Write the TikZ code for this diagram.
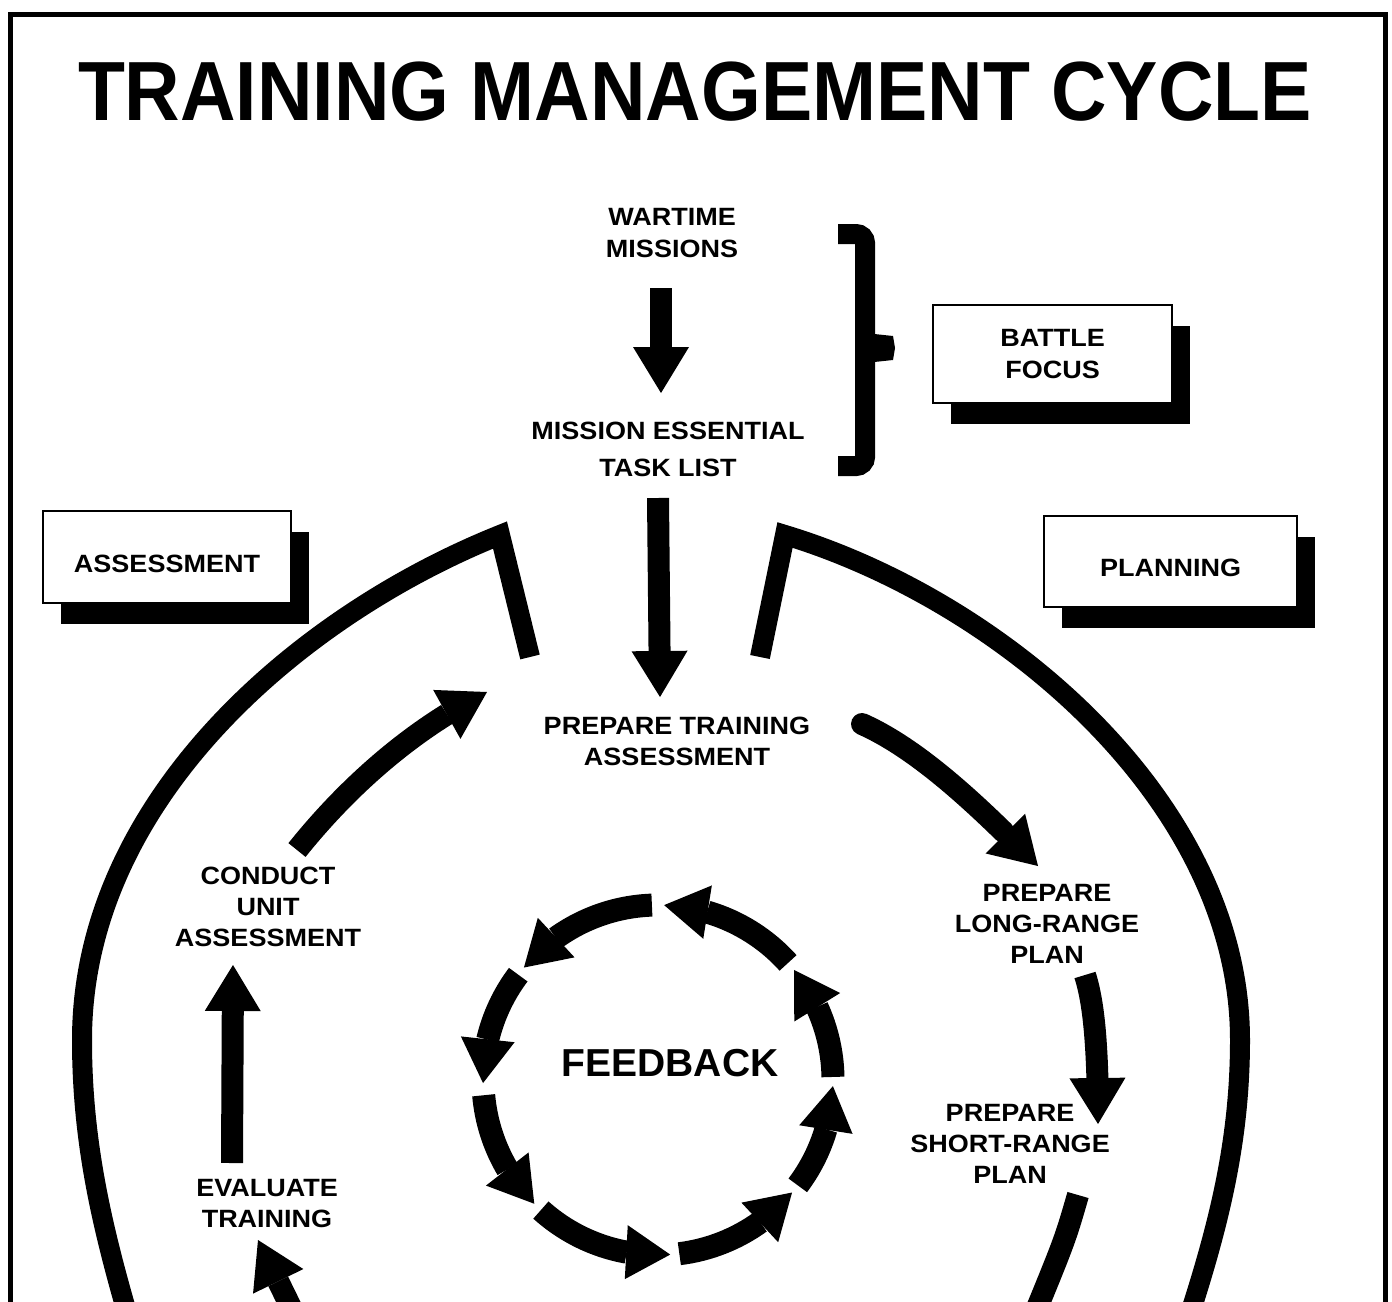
\documentclass[tikz,border=0pt]{standalone}
\usepackage{fontspec}
\setmainfont{Liberation Sans}
\newfontfamily\labfont{Liberation Sans}[FakeStretch=1.08]
\newfontfamily\ttlfont{Liberation Sans}[FakeStretch=0.915]
\usetikzlibrary{arrows.meta,bending,shadows}
\begin{document}
\begin{tikzpicture}[x=1pt,y=-1pt,
  lbl/.style={font=\labfont\bfseries\fontsize{25pt}{31pt}\selectfont, align=center, inner sep=0pt},
  tbox/.style={draw, line width=2.5pt, fill=white, inner sep=0pt, align=center,
     font=\labfont\bfseries\fontsize{25pt}{32pt}\selectfont,
     drop shadow={shadow xshift=18pt, shadow yshift=-21pt, opacity=1, fill=black}},
  bigarrow/.style={line width=22pt, -{Triangle[width=56pt,length=46pt,line width=0pt]}},
  fbarrow/.style={line width=23pt, -{Triangle[width=54pt,length=44pt,line width=0pt]}},
  outer/.style={line width=20pt, line join=miter},
  frame/.style={line width=5pt}
]
\useasboundingbox (0,0) rectangle (1392,1301);
\fill[white] (0,0) rectangle (1392,1301);
\clip (0,0) rectangle (1392,1301);

% frame
\draw[frame] (10,1320) -- (10,14) -- (1385,14) -- (1385,1320);

% title
\node[inner sep=0pt, font=\ttlfont\bfseries\fontsize{84pt}{84pt}\selectfont] (title) at (695,92) {TRAINING MANAGEMENT CYCLE};

% texts
\node[lbl] (wartime) at (672,233) {WARTIME\\[1pt]MISSIONS};
\node[lbl] (metl) at (668,449.5) {MISSION ESSENTIAL\\[6pt]TASK LIST};
\node[lbl] (pta) at (677,741.5) {PREPARE TRAINING\\ASSESSMENT};
\node[lbl] (conduct) at (268,907) {CONDUCT\\UNIT\\ASSESSMENT};
\node[lbl] (lrp) at (1047,924) {PREPARE\\LONG-RANGE\\PLAN};
\node[lbl] (srp) at (1010,1144) {PREPARE\\SHORT-RANGE\\PLAN};
\node[lbl] (evaluate) at (267,1203.5) {EVALUATE\\TRAINING};
\node[inner sep=0pt, font=\bfseries\fontsize{39pt}{39pt}\selectfont] (feedback) at (670,1063) {FEEDBACK};

% boxes
\node[tbox, minimum width=239pt, minimum height=98pt] (bf) at (1052.5,354) {BATTLE\\FOCUS};
\node[tbox, minimum width=248pt, minimum height=92pt, text height=30pt, text depth=0pt] (as) at (167,557) {ASSESSMENT};
\node[tbox, minimum width=253pt, minimum height=91pt, text height=30pt, text depth=0pt] (pl) at (1170.5,561.5) {PLANNING};

% brace
\draw[line width=20pt, rounded corners=9pt] (838,234) -- (865,234) -- (865,466) -- (838,466);
\fill (865,333) -- (893,336) -- (895,348) -- (893,360) -- (865,363) -- cycle;

% outer loop
\draw[outer] (530,657) -- (500,535) .. controls (300,615) and (82,800) .. (82,1040)
   .. controls (82,1150) and (105,1240) .. (138,1350);
\draw[outer] (760,657) -- (785,535) .. controls (1000,600) and (1240,800) .. (1240,1040)
   .. controls (1240,1150) and (1215,1240) .. (1178,1350);

% connector end points
\coordinate (w2m-a) at (661,288);
\coordinate (w2m-b) at (661,393);
\coordinate (m2p-a) at (658,498);
\coordinate (m2p-b) at (660,697);
\coordinate (c2p-a) at (297,850);
\coordinate (c2p-b) at (487,692);
\coordinate (p2l-a) at (862,724);
\coordinate (p2l-b) at (1038,866);
\coordinate (l2s-a) at (1085,975);
\coordinate (l2s-b) at (1098,1124);
\coordinate (s2o-a) at (1078,1195);
\coordinate (s2o-b) at (1028,1330);
\coordinate (e2c-a) at (232,1163);
\coordinate (e2c-b) at (233,965);
\coordinate (i2e-a) at (302,1330);
\coordinate (i2e-b) at (258,1240);

% connectors
\draw[bigarrow] (w2m-a) -- (w2m-b);
\draw[bigarrow] (m2p-a) -- (m2p-b);
\draw[bigarrow] (c2p-a) .. controls (345,790) and (410,730) .. (c2p-b);
\draw[bigarrow, line cap=round] (p2l-a) .. controls (925,752) and (990,818) .. (p2l-b);
\draw[bigarrow] (l2s-a) .. controls (1093,1000) and (1098,1040) .. (l2s-b);
\draw[line width=22pt] (s2o-a) .. controls (1065,1240) .. (s2o-b);
\draw[bigarrow] (e2c-a) -- (e2c-b);
\draw[bigarrow] (i2e-a) -- (i2e-b);

% feedback circle
\coordinate (fbc) at (658,1080);
\foreach \s/\t in {37/2, -1/-39, -42/-88, -92/-140, -143/-181, -185/-225, -228/-274, -277/-320}
  \draw[fbarrow] ([shift={(\s:175)}]fbc) arc[start angle=\s, end angle=\t, radius=175];
\end{tikzpicture}
\end{document}
